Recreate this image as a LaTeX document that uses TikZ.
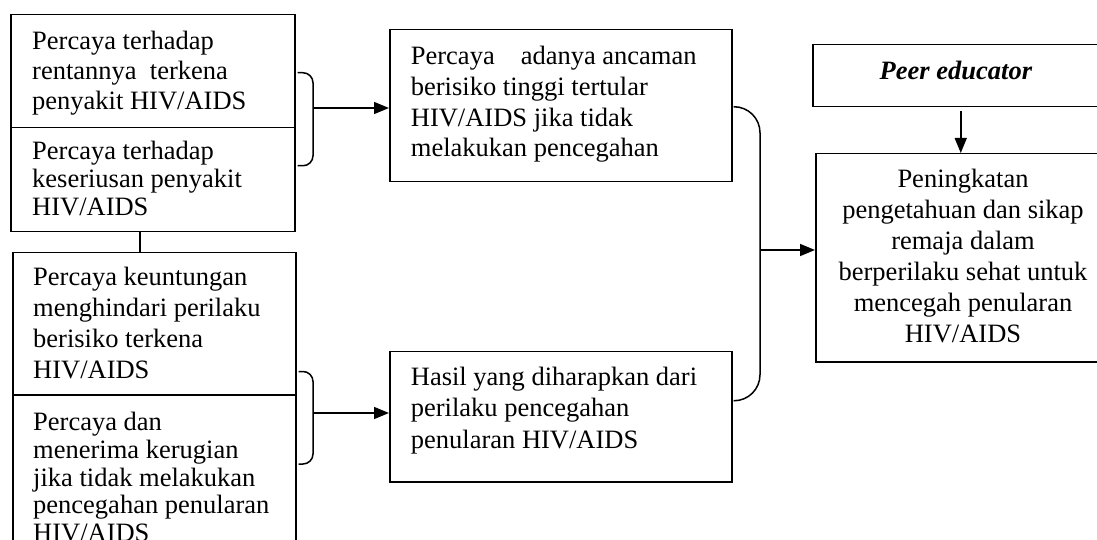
\documentclass[tikz,border=0pt]{standalone}
\usepackage{fontspec}
\setmainfont{Liberation Serif}
\usetikzlibrary{arrows.meta}
\begin{document}
\begin{tikzpicture}[x=1bp,y=-1bp,
  box/.style={draw, line width=1.5bp, inner sep=0pt, anchor=north west, rectangle},
  txt/.style={anchor=base west, inner sep=0pt, align=left},
  ctxt/.style={anchor=base, inner sep=0pt, align=center},
  conn/.style={line width=1.5bp},
  arr/.style={conn, -{Triangle[length=15bp,width=12bp]}}]
\useasboundingbox (0,0) rectangle (1097,540);
\clip (0,0) rectangle (1097,540);
% boxes
\node[box, minimum width=284bp, minimum height=113bp] (a1) at (10,14) {};
\node[box, minimum width=284bp, minimum height=104bp] (a2) at (10,127) {};
\node[box, minimum width=283bp, minimum height=142bp] (b1) at (12,252) {};
\node[box, minimum width=283bp, minimum height=170bp] (b2) at (12,394) {};
\node[box, minimum width=342bp, minimum height=152bp] (c1) at (389,29) {};
\node[box, minimum width=342bp, minimum height=130bp] (c2) at (389,351) {};
\node[box, minimum width=296bp, minimum height=62bp] (d) at (812,44) {};
\node[box, minimum width=300bp, minimum height=208bp] (e) at (815,153) {};
% texts (anchored at the baseline of their last line)
\node[txt, font=\fontsize{26.5bp}{30bp}\selectfont] (a1t) at (32,109.5)
  {Percaya terhadap\\rentannya\ \ terkena\\penyakit HIV/AIDS};
\node[txt, font=\fontsize{26.5bp}{27.8bp}\selectfont] (a2t) at (32,215.6)
  {Percaya terhadap\\keseriusan penyakit\\HIV/AIDS};
\node[txt, font=\fontsize{26.5bp}{31bp}\selectfont] (b1t) at (33,379)
  {Percaya keuntungan\\menghindari perilaku\\berisiko terkena\\HIV/AIDS};
\node[txt, font=\fontsize{26.5bp}{27.7bp}\selectfont] (b2t) at (33,541.5)
  {Percaya dan\\menerima kerugian\\jika tidak melakukan\\pencegahan penularan\\HIV/AIDS};
\node[txt, font=\fontsize{26.5bp}{30.6bp}\selectfont] (c1t) at (410.7,156.8)
  {Percaya\hspace{26bp}adanya ancaman\\berisiko tinggi tertular\\HIV/AIDS jika tidak\\melakukan pencegahan};
\node[txt, font=\fontsize{26.5bp}{31.5bp}\selectfont] (c2t) at (410.7,448)
  {Hasil yang diharapkan dari\\perilaku pencegahan\\penularan HIV/AIDS};
\node[ctxt, font=\fontsize{26.5bp}{31bp}\selectfont] (dt) at (956,80)
  {\textbf{\textit{Peer educator}}};
\node[ctxt, font=\fontsize{26.5bp}{31bp}\selectfont] (et) at (963,342.3)
  {Peningkatan\\pengetahuan dan sikap\\remaja dalam\\berperilaku sehat untuk\\mencegah penularan\\HIV/AIDS};
% connectors
\draw[conn] (a2.south -| 140,0) -- (140,0 |- b1.north);
\coordinate (ba) at (314,108);
\draw[conn, rounded corners=10bp] ([xshift=2bp,yshift=-1.5bp]a1.east) -| (313,118) |- ([xshift=2bp,yshift=14bp]a2.east);
\draw[arr] (ba) -- (ba -| c1.west);
\coordinate (bb) at (314,413);
\draw[conn, rounded corners=10bp] ([xshift=2bp,yshift=24bp]b1.south east) -| (313,417) |- ([xshift=2bp,yshift=-70bp]b2.north east);
\draw[arr] (bb) -- (bb -| c2.west);
\coordinate (bc) at (760,250);
\draw[conn, rounded corners=26bp] ([xshift=1bp,yshift=-1bp]c1.east) -| (bc) |- ([xshift=1bp,yshift=16bp]c2.east);
\draw[arr] (bc) -- (bc -| e.west);
\draw[arr] ([yshift=-4bp]d.south) -- (d.south |- e.north);
\end{tikzpicture}
\end{document}
